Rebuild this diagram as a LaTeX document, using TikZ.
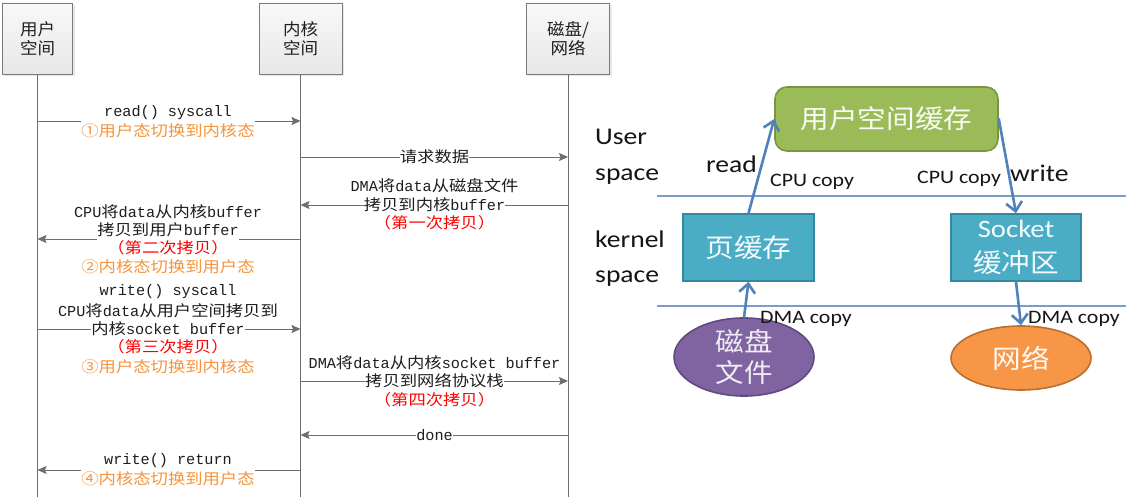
\documentclass[tikz,border=0pt]{standalone}
\usepackage{fontspec}
\setmainfont{Liberation Mono}
\newfontfamily\latf{Liberation Mono}
\newfontfamily\cjkf[FakeStretch=1.14]{Noto Sans CJK SC}
\newfontfamily\cjkb[FakeStretch=1.06]{Noto Sans CJK SC}
\newfontfamily\cjkr[FakeStretch=1.1]{Noto Sans CJK SC}
\newfontfamily\carl[FakeStretch=1.15]{Carlito}
\usetikzlibrary{arrows.meta,shadows,shapes.geometric}
\newcommand\zh[1]{{\cjkf #1}}
\definecolor{boxborder}{HTML}{7A7A7A}
\definecolor{boxtop}{HTML}{F8F8F8}
\definecolor{boxbot}{HTML}{E8E8E8}
\definecolor{lifegray}{HTML}{6E6E6E}
\definecolor{msgtext}{HTML}{1E1E1E}
\definecolor{orangetxt}{HTML}{F7933A}
\definecolor{redtxt}{HTML}{FF0000}
\definecolor{greenfill}{HTML}{9BBB59}
\definecolor{greenborder}{HTML}{7A9540}
\definecolor{aquafill}{HTML}{4BACC6}
\definecolor{aquaborder}{HTML}{35879E}
\definecolor{purplefill}{HTML}{8064A2}
\definecolor{purpleborder}{HTML}{5E4A7C}
\definecolor{orangefill}{HTML}{F79646}
\definecolor{orangeborder}{HTML}{B9702F}
\definecolor{arrowblue}{HTML}{4F81BD}
\definecolor{seplinecol}{HTML}{7A9CCB}
\definecolor{labeltext}{HTML}{151515}
\begin{document}
\begin{tikzpicture}[x=1pt,y=-1pt,
  actor/.style={draw=boxborder, line width=0.9pt, top color=boxtop, bottom color=boxbot,
    minimum height=71pt, inner sep=0pt, align=center, text=msgtext,
    font=\cjkb\fontsize{16.5}{18.5}\selectfont,
    drop shadow={shadow xshift=2pt, shadow yshift=-2pt, opacity=0.18}},
  life/.style={draw=lifegray, line width=0.9pt},
  msgarrow/.style={draw=lifegray, line width=0.9pt, -{Stealth[length=9pt,width=8pt,inset=1.5pt]}},
  ml/.style={fill=white, inner xsep=0pt, inner ysep=0pt, minimum height=19pt, text=msgtext,
    font=\latf\fontsize{15.2}{18}\selectfont},
  mlo/.style={ml, text=orangetxt},
  mlr/.style={ml, text=redtxt},
  rbox/.style={line width=1.6pt, inner sep=0pt, align=center,
    font=\cjkr\fontsize{26}{35}\selectfont},
  rlabel/.style={anchor=base west, inner sep=0pt, text=labeltext, font=\carl\fontsize{24}{28}\selectfont},
  rsmall/.style={anchor=base west, inner sep=0pt, text=labeltext, font=\carl\fontsize{19}{22}\selectfont},
  barrow/.style={draw=arrowblue, line width=2.6pt, line cap=round,
    -{Straight Barb[length=9pt,width=16pt,line width=2.6pt]}},
  sepline/.style={draw=seplinecol, line width=1.2pt}
]
\useasboundingbox (0,0) rectangle (1126,497);
\fill[white] (0,0) rectangle (1126,497);

% ---------- left: sequence diagram ----------
\node[actor, minimum width=70pt] (bu) at (37.5,38.5) {用户\\空间};
\node[actor, minimum width=83pt] (bk) at (300.5,38.5) {内核\\空间};
\node[actor, minimum width=83pt] (bd) at (568,38.5) {磁盘/\\网络};

\draw[life] (bu.south) -- (bu.south |- 0,497);
\draw[life] (bk.south) -- (bk.south |- 0,497);
\draw[life] (bd.south) -- (bd.south |- 0,497);

% arrows
\draw[msgarrow] (bu.south |- 0,121) -- (bk.south |- 0,121);
\draw[msgarrow] (bk.south |- 0,157) -- (bd.south |- 0,157);
\draw[msgarrow] (bd.south |- 0,205) -- (bk.south |- 0,205);
\draw[msgarrow] (bk.south |- 0,239) -- (bu.south |- 0,239);
\draw[msgarrow] (bu.south |- 0,329) -- (bk.south |- 0,329);
\draw[msgarrow] (bk.south |- 0,381) -- (bd.south |- 0,381);
\draw[msgarrow] (bd.south |- 0,435) -- (bk.south |- 0,435);
\draw[msgarrow] (bk.south |- 0,470) -- (bu.south |- 0,470);

% labels
\node[ml]  (m1a) at (168,113) {read() syscall};
\node[mlo] (m1b) at (168,131) {\zh{①用户态切换到内核态}};

\node[ml]  (m2a) at (434.5,157) {\zh{请求数据}};

\node[ml]  (m3a) at (434.5,186) {DMA\zh{将}data\zh{从磁盘文件}};
\node[ml]  (m3b) at (434.5,205) {\zh{拷贝到内核}buffer};
\node[mlr] (m3c) at (434.5,223) {\zh{（第一次拷贝）}};

\node[ml]  (m4a) at (168,212) {CPU\zh{将}data\zh{从内核}buffer};
\node[ml]  (m4b) at (168,230) {\zh{拷贝到用户}buffer};
\node[mlr] (m4c) at (168,248) {\zh{（第二次拷贝）}};
\node[mlo] (m4d) at (168,267) {\zh{②内核态切换到用户态}};

\node[ml]  (m5a) at (168,292) {write() syscall};
\node[ml]  (m5b) at (168,311) {CPU\zh{将}data\zh{从用户空间拷贝到}};
\node[ml]  (m5c) at (168,329) {\zh{内核}socket buffer};
\node[mlr] (m5d) at (168,347) {\zh{（第三次拷贝）}};
\node[mlo] (m5e) at (168,367) {\zh{③用户态切换到内核态}};

\node[ml]  (m6a) at (434.5,363) {DMA\zh{将}data\zh{从内核}socket buffer};
\node[ml]  (m6b) at (434.5,381) {\zh{拷贝到网络协议栈}};
\node[mlr] (m6c) at (434.5,400) {\zh{（第四次拷贝）}};

\node[ml]  (m7a) at (434.5,435) {done};

\node[ml]  (m8a) at (168,461) {write() return};
\node[mlo] (m8b) at (168,479) {\zh{④内核态切换到用户态}};

% ---------- right: zero-copy figure ----------
\coordinate (s1a) at (657,196);
\coordinate (s1b) at (1126,196);
\coordinate (s2a) at (657,306);
\coordinate (s2b) at (1126,306);
\draw[sepline] (s1a) -- (s1b);
\draw[sepline] (s2a) -- (s2b);

\node[rbox, draw=greenborder, fill=greenfill, rounded corners=12pt, text=white!94!greenfill,
  minimum width=223pt, minimum height=64pt] (ucache) at (886.5,119) {用户空间缓存};
\node[rbox, draw=aquaborder, fill=aquafill, text=white!94!aquafill,
  minimum width=131pt, minimum height=67pt] (page) at (748.5,247.5) {页缓存};
\node[rbox, draw=aquaborder, fill=aquafill, text=white!94!aquafill,
  minimum width=130pt, minimum height=67pt] (sock) at (1016,247.5) {{\carl\fontsize{25}{35}\selectfont Socket}\\缓冲区};
\node[rbox, ellipse, draw=purpleborder, fill=purplefill, text=white!88!purplefill,
  font=\cjkr\fontsize{26}{31}\selectfont,
  minimum width=140pt, minimum height=70pt] (disk) at (744,357) {磁盘\\文件};
\node[rbox, ellipse, draw=orangeborder, fill=orangefill, text=white!94!orangefill,
  minimum width=140pt, minimum height=64pt] (net) at (1021,358) {网络};

\node[rlabel] (tuser) at (595,145) {User};
\node[rlabel] (tuspace) at (595,180) {space};
\node[rlabel] (tkernel) at (595,247) {kernel};
\node[rlabel] (tkspace) at (595,282) {space};
\node[rlabel] (tread) at (706,173) {read};
\node[rlabel] (twrite) at (1010,182) {write};
\node[rsmall] (tcpu1) at (770,186) {CPU copy};
\node[rsmall] (tcpu2) at (917,184) {CPU copy};
\node[rsmall] (tdma1) at (760,323) {DMA copy};
\node[rsmall] (tdma2) at (1028,323) {DMA copy};

\draw[barrow] (page.north) -- (ucache.west);
\draw[barrow] (ucache.east) -- (sock.north);
\draw[barrow] (disk.north) -- (page.south);
\draw[barrow] (sock.south) -- (net.north);
\end{tikzpicture}
\end{document}
